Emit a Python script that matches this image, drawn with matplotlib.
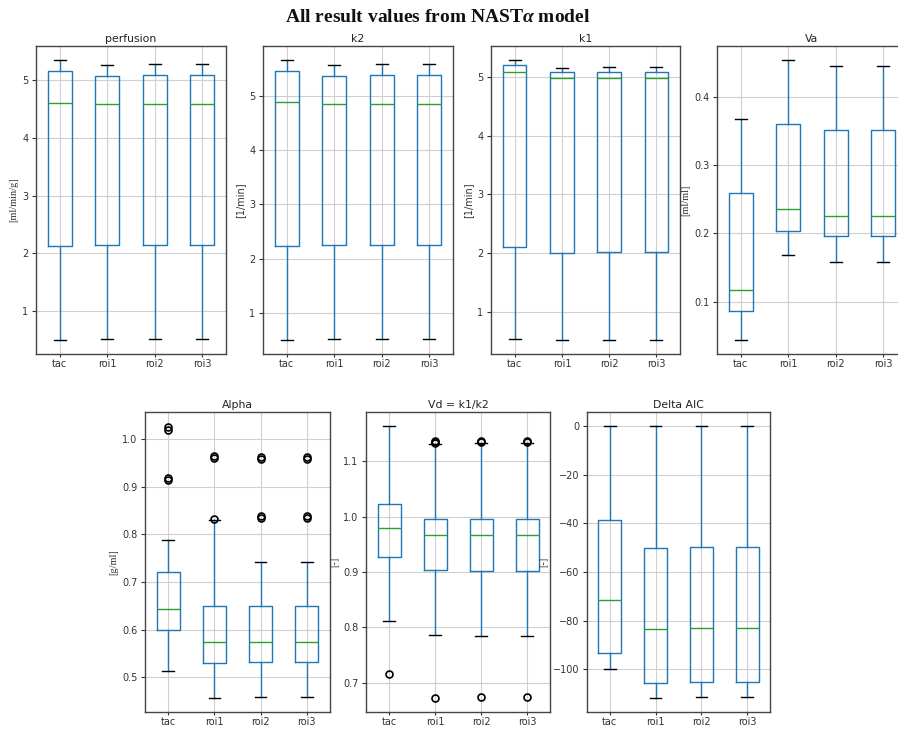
import matplotlib
matplotlib.use("Agg")
import matplotlib.pyplot as plt

W, H = 898, 729

categories = ["tac", "roi1", "roi2", "roi3"]

# ---- data (five-number summaries) ----
perf_whislo = [0.49, 0.52, 0.52, 0.52]
perf_q1 = [2.12, 2.15, 2.15, 2.15]
perf_med = [4.61, 4.59, 4.59, 4.59]
perf_q3 = [5.15, 5.07, 5.09, 5.09]
perf_whishi = [5.35, 5.26, 5.27, 5.27]

k2_whislo = [0.51, 0.53, 0.53, 0.53]
k2_q1 = [2.24, 2.26, 2.26, 2.26]
k2_med = [4.88, 4.85, 4.85, 4.85]
k2_q3 = [5.45, 5.36, 5.38, 5.38]
k2_whishi = [5.66, 5.56, 5.58, 5.58]

k1_whislo = [0.55, 0.53, 0.53, 0.53]
k1_q1 = [2.10, 2.01, 2.03, 2.02]
k1_med = [5.08, 4.98, 4.98, 4.98]
k1_q3 = [5.20, 5.08, 5.08, 5.08]
k1_whishi = [5.29, 5.15, 5.17, 5.17]

va_whislo = [0.044, 0.168, 0.158, 0.158]
va_q1 = [0.086, 0.204, 0.196, 0.196]
va_med = [0.117, 0.236, 0.225, 0.225]
va_q3 = [0.259, 0.361, 0.352, 0.352]
va_whishi = [0.368, 0.455, 0.445, 0.445]

alpha_whislo = [0.513, 0.457, 0.458, 0.458]
alpha_q1 = [0.600, 0.530, 0.532, 0.532]
alpha_med = [0.643, 0.573, 0.575, 0.575]
alpha_q3 = [0.720, 0.650, 0.650, 0.650]
alpha_whishi = [0.789, 0.830, 0.741, 0.741]
alpha_fliers = [[1.020, 1.025, 0.914, 0.918],
                [0.961, 0.965, 0.833],
                [0.958, 0.962, 0.834, 0.838],
                [0.958, 0.962, 0.834, 0.838]]

vd_whislo = [0.811, 0.786, 0.784, 0.784]
vd_q1 = [0.927, 0.904, 0.902, 0.902]
vd_med = [0.980, 0.967, 0.967, 0.966]
vd_q3 = [1.022, 0.995, 0.995, 0.995]
vd_whishi = [1.164, 1.131, 1.133, 1.133]
vd_fliers = [[0.716],
             [1.133, 1.137, 1.135, 0.673],
             [1.135, 1.137, 0.674],
             [1.135, 1.137, 0.674]]

aic_whislo = [-99.8, -112.0, -111.6, -111.6]
aic_q1 = [-93.2, -105.5, -105.3, -105.3]
aic_med = [-71.5, -83.5, -82.9, -82.9]
aic_q3 = [-38.7, -50.2, -49.8, -49.8]
aic_whishi = [0.0, 0.0, 0.0, 0.0]

plt.rcParams["mathtext.fontset"] = "custom"
plt.rcParams["mathtext.rm"] = "Liberation Serif:bold"
plt.rcParams["mathtext.it"] = "Liberation Serif:italic:bold"
plt.rcParams["mathtext.bf"] = "Liberation Serif:bold"

fig = plt.figure(figsize=(W / 100, H / 100), dpi=100)


def make_stats(whislo, q1, med, q3, whishi, fliers=None):
    out = []
    for i, lab in enumerate(categories):
        out.append(dict(label=lab, whislo=whislo[i], q1=q1[i], med=med[i],
                        q3=q3[i], whishi=whishi[i],
                        fliers=(fliers[i] if fliers else [])))
    return out


def panel(px, title, ylabel, stats, ylim, serif_label=True):
    l, t, r, b = px
    ax = fig.add_axes([l / W, 1 - b / H, (r - l) / W, (b - t) / H])
    ax.bxp(stats, widths=0.5,
           boxprops=dict(color="#1f77b4", linewidth=1.0),
           whiskerprops=dict(color="#1f77b4", linewidth=1.0),
           medianprops=dict(color="#2ca02c", linewidth=1.0),
           capprops=dict(color="black", linewidth=1.0),
           flierprops=dict(marker="o", markerfacecolor="none",
                           markeredgecolor="black", markersize=5,
                           markeredgewidth=1.2))
    ax.set_ylim(*ylim)
    ax.set_xlim(0.5, 4.5)
    ax.grid(True, color="#cfcfcf", linewidth=0.8)
    ax.set_axisbelow(True)
    ax.set_title(title, fontsize=7.8, color="#222222", pad=3)
    if serif_label:
        ax.set_ylabel(ylabel, fontsize=7.5, family="Liberation Serif",
                      color="#333333", labelpad=3)
    else:
        ax.set_ylabel(ylabel, fontsize=7, color="#333333", labelpad=3)
    ax.tick_params(axis="y", labelsize=7, colors="#333333", length=3, pad=2.5)
    ax.tick_params(axis="x", labelsize=7, colors="#333333", length=2, pad=1.5)
    for s in ax.spines.values():
        s.set_color("#444444")
        s.set_linewidth(1.0)
    return ax


panel((36, 46, 226, 354), "perfusion", "[ml/min/g]",
      make_stats(perf_whislo, perf_q1, perf_med, perf_q3, perf_whishi),
      (0.255, 5.59))
panel((263, 46, 453, 354), "k2", "[1/min]",
      make_stats(k2_whislo, k2_q1, k2_med, k2_q3, k2_whishi),
      (0.25, 5.91), serif_label=False)
panel((491, 46, 680, 354), "k1", "[1/min]",
      make_stats(k1_whislo, k1_q1, k1_med, k1_q3, k1_whishi),
      (0.29, 5.52), serif_label=False)
panel((717, 46, 907, 354), "Va", "[ml/ml]",
      make_stats(va_whislo, va_q1, va_med, va_q3, va_whishi),
      (0.023, 0.475))
panel((145, 412, 330, 712), "Alpha", "[g/ml]",
      make_stats(alpha_whislo, alpha_q1, alpha_med, alpha_q3, alpha_whishi,
                 alpha_fliers),
      (0.427, 1.057))
panel((366, 412, 550, 712), "Vd = k1/k2", "[-]",
      make_stats(vd_whislo, vd_q1, vd_med, vd_q3, vd_whishi, vd_fliers),
      (0.647, 1.189))
ax_aic = panel((587, 412, 770, 712), "Delta AIC", "[-]",
               make_stats(aic_whislo, aic_q1, aic_med, aic_q3, aic_whishi),
               (-117.6, 5.9))
ax_aic.set_yticks([0, -20, -40, -60, -80, -100])

fig.text(438 / W, 1 - 17 / H, r"All result values from NAST$\alpha$ model",
         ha="center", va="center", fontsize=14, family="Liberation Serif",
         weight="bold", color="#111111")

fig.savefig("out.png", dpi=100)
